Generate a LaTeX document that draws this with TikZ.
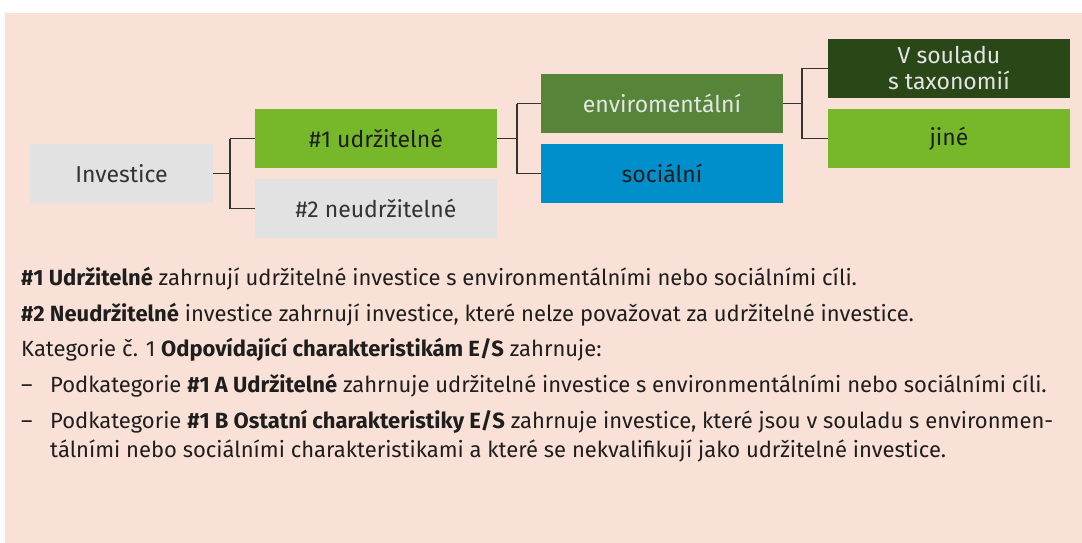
\documentclass[tikz,border=0pt]{standalone}
\usepackage{fontspec}
\setmainfont{Fira Sans}
\definecolor{peach}{HTML}{FAE1D7}
\definecolor{boxgray}{HTML}{E2E2E2}
\definecolor{lgreen}{HTML}{76B82A}
\definecolor{mgreen}{HTML}{56853A}
\definecolor{dgreen}{HTML}{2A4718}
\definecolor{sblue}{HTML}{008FCA}
\definecolor{txt}{HTML}{1E1E1E}
\definecolor{lnc}{HTML}{333333}
\begin{document}
\begin{tikzpicture}[x=1pt,y=-1pt,
  boxbase/.style={rectangle, inner sep=0pt, minimum width=242pt, minimum height=59pt, align=center, font=\fontsize{23}{25}\selectfont, text=txt},
  graybox/.style={boxbase, fill=boxgray, text=lnc},
  lgbox/.style={boxbase, fill=lgreen},
  mgbox/.style={boxbase, fill=mgreen, text=white!90!black},
  dgbox/.style={boxbase, fill=dgreen, text=white!90!black},
  bluebox/.style={boxbase, fill=sblue},
  conn/.style={draw=lnc, line width=1.4pt},
  body/.style={anchor=base west, inner sep=0pt, font=\fontsize{22}{24}\selectfont, text=txt}
]
\useasboundingbox (0,0) rectangle (1082,543);
\fill[white] (0,0) rectangle (1082,543);
\fill[peach] (5,13) rectangle (1082,543);

\node[graybox, minimum width=183pt] (inv) at (121.5,173.5) {Investice};
\node[lgbox] (u1) at (376,138.5) {\#1 udržitelné};
\node[graybox] (u2) at (376,208.5) {\#2 neudržitelné};
\node[mgbox] (env) at (662,103.5) {enviromentální};
\node[bluebox] (soc) at (662,173.5) {sociální};
\node[dgbox, font=\fontsize{23}{26}\selectfont] (tax) at (949,68.5) {V souladu\\s taxonomií};
\node[lgbox] (jine) at (949,138.5) {jiné};

\coordinate (j1) at (230,173.5);
\coordinate (j2) at (517,138.5);
\coordinate (j3) at (802,103.5);

\draw[conn] (inv.east) -- (j1);
\draw[conn] (j1 |- u1.west) -- (j1 |- u2.west);
\draw[conn] (j1 |- u1.west) -- (u1.west);
\draw[conn] (j1 |- u2.west) -- (u2.west);

\draw[conn] (u1.east) -- (j2);
\draw[conn] (j2 |- env.west) -- (j2 |- soc.west);
\draw[conn] (j2 |- env.west) -- (env.west);
\draw[conn] (j2 |- soc.west) -- (soc.west);

\draw[conn] (env.east) -- (j3);
\draw[conn] (j3 |- tax.west) -- (j3 |- jine.west);
\draw[conn] (j3 |- tax.west) -- (tax.west);
\draw[conn] (j3 |- jine.west) -- (jine.west);

\node[body] (t1) at (21,285) {\textbf{\#1 Udržitelné} zahrnují udržitelné investice s environmentálními nebo sociálními cíli.};
\node[body] (t2) at (21,321) {\textbf{\#2 Neudržitelné} investice zahrnují investice, které nelze považovat za udržitelné investice.};
\node[body] (t3) at (21,356) {Kategorie č. 1 \textbf{Odpovídající charakteristikám E/S} zahrnuje:};
\node[body] (d1) at (21,392) {–};
\node[body] (t4) at (50,392) {Podkategorie \textbf{\#1 A Udržitelné} zahrnuje udržitelné investice s environmentálními nebo sociálními cíli.};
\node[body] (d2) at (21,428) {–};
\node[body] (t5) at (50,428) {Podkategorie \textbf{\#1 B Ostatní charakteristiky E/S} zahrnuje investice, které jsou v souladu s environmen-};
\node[body] (t6) at (50,457) {tálními nebo sociálními charakteristikami a které se nekvalifikují jako udržitelné investice.};
\end{tikzpicture}
\end{document}
